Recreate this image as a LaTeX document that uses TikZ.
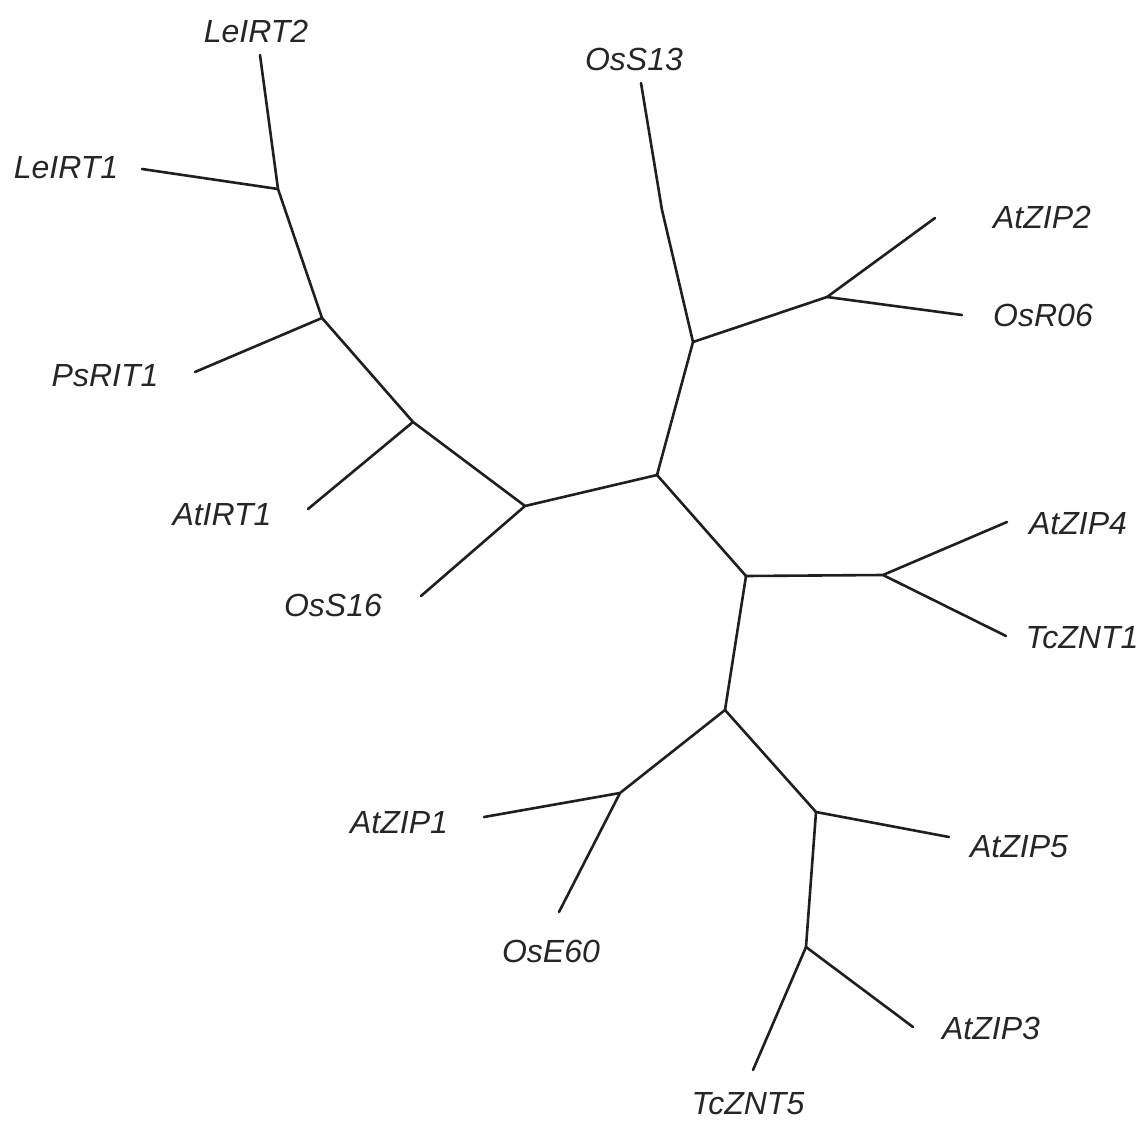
\documentclass[tikz,border=0pt]{standalone}
\usepackage{fontspec}
\setmainfont{Liberation Sans}
\begin{document}
\begin{tikzpicture}[x=1pt,y=-1pt,
  branch/.style={line width=2.6pt,color=black!88,line cap=round,line join=round},
  lbl/.style={font=\fontsize{32}{36}\selectfont\itshape,text=black!85,inner sep=0pt,anchor=center}]
\useasboundingbox (0,0) rectangle (1141,1121);
% internal nodes
\coordinate (r) at (657,475);
\coordinate (a) at (693,342);
\coordinate (a2) at (827,297);
\coordinate (b) at (525,506);
\coordinate (b2) at (413,422);
\coordinate (b3) at (322,318);
\coordinate (b4) at (278,189);
\coordinate (c) at (746,576);
\coordinate (c2) at (883,575);
\coordinate (c3) at (725,710);
\coordinate (c4) at (620,793);
\coordinate (c5) at (816,812);
\coordinate (c6) at (806,947);
\coordinate (kink) at (662,210);
% leaf ends
\coordinate (lOsS13) at (641,83);
\coordinate (lAtZIP2) at (935,218);
\coordinate (lOsR06) at (962,315);
\coordinate (lOsS16) at (421,596);
\coordinate (lAtIRT1) at (308,509);
\coordinate (lPsRIT1) at (195,372);
\coordinate (lLeIRT1) at (142,169);
\coordinate (lLeIRT2) at (260,55);
\coordinate (lAtZIP4) at (1007,522);
\coordinate (lTcZNT1) at (1006,636);
\coordinate (lAtZIP1) at (484,817);
\coordinate (lOsE60) at (559,912);
\coordinate (lAtZIP5) at (949,837);
\coordinate (lAtZIP3) at (913,1027);
\coordinate (lTcZNT5) at (753,1070);
% labels
\node[lbl] (tLeIRT2) at (256,31) {LeIRT2};
\node[lbl] (tLeIRT1) at (66,168) {LeIRT1};
\node[lbl] (tPsRIT1) at (105,376) {PsRIT1};
\node[lbl] (tAtIRT1) at (222,515) {AtIRT1};
\node[lbl] (tOsS16) at (333,605) {OsS16};
\node[lbl] (tOsS13) at (634,59) {OsS13};
\node[lbl] (tAtZIP2) at (1042,217) {AtZIP2};
\node[lbl] (tOsR06) at (1043,315) {OsR06};
\node[lbl] (tAtZIP4) at (1078,524) {AtZIP4};
\node[lbl] (tTcZNT1) at (1082,638) {TcZNT1};
\node[lbl] (tAtZIP1) at (399,823) {AtZIP1};
\node[lbl] (tOsE60) at (551,951) {OsE60};
\node[lbl] (tAtZIP5) at (1019,847) {AtZIP5};
\node[lbl] (tAtZIP3) at (991,1028) {AtZIP3};
\node[lbl] (tTcZNT5) at (748,1104) {TcZNT5};
% branches
\draw[branch] (lOsS13) -- (kink) -- (a) -- (r);
\draw[branch] (a) -- (a2) -- (lAtZIP2);
\draw[branch] (a2) -- (lOsR06);
\draw[branch] (r) -- (b) -- (lOsS16);
\draw[branch] (b) -- (b2) -- (lAtIRT1);
\draw[branch] (b2) -- (b3) -- (lPsRIT1);
\draw[branch] (b3) -- (b4) -- (lLeIRT1);
\draw[branch] (b4) -- (lLeIRT2);
\draw[branch] (r) -- (c) -- (c2) -- (lAtZIP4);
\draw[branch] (c2) -- (lTcZNT1);
\draw[branch] (c) -- (c3) -- (c4) -- (lAtZIP1);
\draw[branch] (c4) -- (lOsE60);
\draw[branch] (c3) -- (c5) -- (lAtZIP5);
\draw[branch] (c5) -- (c6) -- (lAtZIP3);
\draw[branch] (c6) -- (lTcZNT5);
\end{tikzpicture}
\end{document}
